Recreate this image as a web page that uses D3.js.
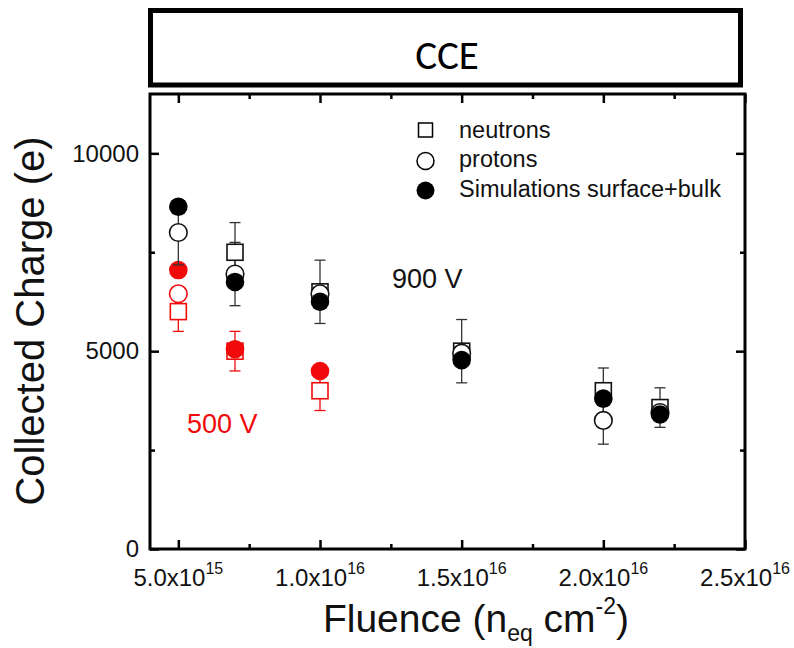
<!DOCTYPE html>
<html><head><meta charset="utf-8">
<script src="https://cdn.jsdelivr.net/npm/d3@7"></script>
<style>
html,body{margin:0;padding:0;background:#fff;}
svg{display:block;}
text{font-family:"Liberation Sans",Arial,Helvetica,sans-serif;}
</style></head>
<body>
<script>
// ---- data ----
const neutrons900_x = [7e15, 1e16, 1.5e16, 2e16, 2.2e16];
const neutrons900_y = [7500, 6500, 5000, 4000, 3575];
const neutrons900_err = [750, 800, 800, 575, 500];

const protons900_x = [5e15, 7e15, 1e16, 1.5e16, 2e16, 2.2e16];
const protons900_y = [8000, 6950, 6450, 4950, 3250, 3450];
const protons900_err = [820, 800, 0, 0, 600, 0];

const sim900_x = [5e15, 7e15, 1e16, 1.5e16, 2e16, 2.2e16];
const sim900_y = [8650, 6750, 6250, 4775, 3800, 3400];

const neutrons500_x = [5e15, 7e15, 1e16];
const neutrons500_y = [6000, 5000, 4000];
const neutrons500_err = [500, 500, 500];

const protons500_x = [5e15];
const protons500_y = [6450];

const sim500_x = [5e15, 7e15, 1e16];
const sim500_y = [7050, 5050, 4500];

const xMajorTicks = [5e15, 1e16, 1.5e16, 2e16, 2.5e16];
const xMinorTicks = [7.5e15, 1.25e16, 1.75e16, 2.25e16];
const xTickMant = ["5.0x10", "1.0x10", "1.5x10", "2.0x10", "2.5x10"];
const xTickExp = ["15", "16", "16", "16", "16"];
const yMajorTicks = [0, 5000, 10000];
const yMinorTicks = [2500, 7500];

const legendLabels = ["neutrons", "protons", "Simulations surface+bulk"];

// ---- drawing ----
const W = 794, H = 648;
const svg = d3.select("body").append("svg").attr("width", W).attr("height", H);

const L = 150, R = 745, T = 94, B = 549;
const x = d3.scaleLinear().domain([4e15, 2.5e16]).range([L, R]);
const y = d3.scaleLinear().domain([0, 11500]).range([B, T]);

// title box
svg.append("rect").attr("x", 150.5).attr("y", 10.5).attr("width", 590).attr("height", 74.5)
  .attr("fill", "#fff").attr("stroke", "#000").attr("stroke-width", 5);
svg.append("text").attr("x", 447).attr("y", 68.5).attr("text-anchor", "middle")
  .style("font-family", "Carlito, Lato, sans-serif").style("font-size", "41px").text("CCE");

// axes ticks (inward)
function addAxis(gen, tx, ty, vals, size) {
  const g = svg.append("g").attr("transform", `translate(${tx},${ty})`)
    .call(gen.tickValues(vals).tickSize(-size).tickFormat(""));
  g.select(".domain").remove();
  g.selectAll(".tick line").attr("stroke", "#000").attr("stroke-width", 2.5);
  return g;
}
addAxis(d3.axisBottom(x), 0, B, xMajorTicks, 9);
addAxis(d3.axisBottom(x), 0, B, xMinorTicks, 5);
addAxis(d3.axisTop(x), 0, T, xMajorTicks, 9);
addAxis(d3.axisTop(x), 0, T, xMinorTicks, 5);
addAxis(d3.axisLeft(y), L, 0, yMajorTicks, 9);
addAxis(d3.axisLeft(y), L, 0, yMinorTicks, 5);
addAxis(d3.axisRight(y), R, 0, yMajorTicks, 9);
addAxis(d3.axisRight(y), R, 0, yMinorTicks, 5);

// y tick labels
const gyl = svg.append("g").attr("transform", `translate(${L},0)`)
  .call(d3.axisLeft(y).tickValues(yMajorTicks).tickSize(0).tickPadding(11).tickFormat(d3.format("d")));
gyl.select(".domain").remove();
gyl.selectAll(".tick text").style("font-size", "24px").style("font-family", "Liberation Sans, Arial, sans-serif").attr("fill", "#111");

// x tick labels with superscripts
const xl = svg.append("g").selectAll("text").data(xMajorTicks).join("text")
  .attr("x", d => x(d)).attr("y", 586).attr("text-anchor", "middle")
  .style("font-size", "24px").attr("fill", "#111");
xl.append("tspan").text((d, i) => xTickMant[i]);
xl.append("tspan").attr("dy", -12.5).style("font-size", "16px").text((d, i) => xTickExp[i]);

// frame
svg.append("rect").attr("x", L).attr("y", T).attr("width", R - L).attr("height", B - T)
  .attr("fill", "none").attr("stroke", "#000").attr("stroke-width", 3);

// axis titles
svg.append("text").attr("transform", "translate(44,321) rotate(-90)").attr("text-anchor", "middle")
  .style("font-size", "40px").attr("fill", "#111").text("Collected Charge (e)");
const xt = svg.append("text").attr("x", 476).attr("y", 632).attr("text-anchor", "middle")
  .style("font-size", "39px").attr("fill", "#111");
xt.append("tspan").text("Fluence (n");
xt.append("tspan").attr("dy", 9).style("font-size", "23px").text("eq");
xt.append("tspan").attr("dy", -9).text(" cm");
xt.append("tspan").attr("dy", -18).style("font-size", "23px").text("-2");
xt.append("tspan").attr("dy", 18).text(")");

// helpers
const zip = (xs, ys, es) => xs.map((v, i) => ({x: v, y: ys[i], e: es ? es[i] : 0}));
const CAP = 5.5, HS = 8, RC = 9.3;
function errorBars(data, color) {
  const g = svg.append("g").attr("stroke", color).attr("stroke-width", 1.3);
  data.filter(d => d.e > 0).forEach(d => {
    const cx = x(d.x), y1 = y(d.y + d.e), y2 = y(d.y - d.e);
    g.append("line").attr("x1", cx).attr("x2", cx).attr("y1", y1).attr("y2", y2);
    g.append("line").attr("x1", cx - CAP).attr("x2", cx + CAP).attr("y1", y1).attr("y2", y1);
    g.append("line").attr("x1", cx - CAP).attr("x2", cx + CAP).attr("y1", y2).attr("y2", y2);
  });
}
function squares(data, color) {
  svg.append("g").selectAll("rect").data(data).join("rect")
    .attr("x", d => x(d.x) - HS).attr("y", d => y(d.y) - HS).attr("width", 2 * HS).attr("height", 2 * HS)
    .attr("fill", "#fff").attr("stroke", color).attr("stroke-width", 1.6);
}
function circles(data, color, filled) {
  svg.append("g").selectAll("circle").data(data).join("circle")
    .attr("cx", d => x(d.x)).attr("cy", d => y(d.y)).attr("r", filled ? RC : RC - 0.5)
    .attr("fill", filled ? color : "#fff").attr("stroke", color).attr("stroke-width", filled ? 0 : 1.6);
}

const RED = "#f00a0a";
const n500 = zip(neutrons500_x, neutrons500_y, neutrons500_err);
const p500 = zip(protons500_x, protons500_y);
const s500 = zip(sim500_x, sim500_y);
const n900 = zip(neutrons900_x, neutrons900_y, neutrons900_err);
const p900 = zip(protons900_x, protons900_y, protons900_err);
const s900 = zip(sim900_x, sim900_y);

errorBars(n500, RED);
squares(n500, RED);
circles(p500, RED, false);
circles(s500, RED, true);

errorBars(n900, "#333");
errorBars(p900, "#333");
squares(n900, "#111");
circles(p900, "#111", false);
circles(s900, "#000", true);

// annotations
svg.append("text").attr("x", 392).attr("y", 288).style("font-size", "27px").attr("fill", "#111").text("900 V");
svg.append("text").attr("x", 187).attr("y", 433).style("font-size", "27px").attr("fill", RED).text("500 V");

// legend
const lg = svg.append("g");
const rows = [138, 167, 197];
lg.append("rect").attr("x", 425.5 - 7).attr("y", 130 - 7).attr("width", 14).attr("height", 14)
  .attr("fill", "#fff").attr("stroke", "#000").attr("stroke-width", 1.5);
lg.append("circle").attr("cx", 425.5).attr("cy", 161).attr("r", 8.5)
  .attr("fill", "#fff").attr("stroke", "#000").attr("stroke-width", 1.5);
lg.append("circle").attr("cx", 425.5).attr("cy", 190.5).attr("r", 9).attr("fill", "#000");
lg.selectAll("text").data(legendLabels).join("text")
  .attr("x", 459).attr("y", (d, i) => rows[i]).style("font-size", "23.5px").attr("fill", "#111").text(d => d);
</script>
</body></html>
